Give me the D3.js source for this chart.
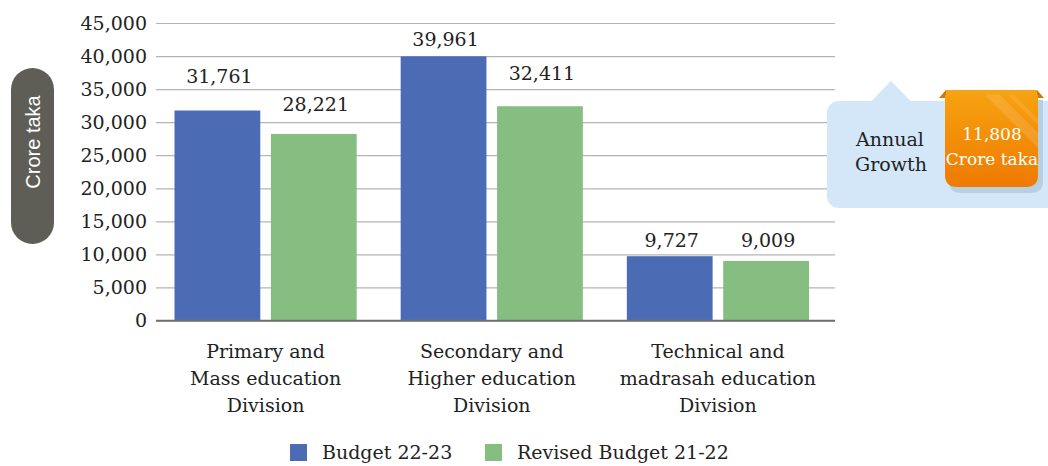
<!DOCTYPE html>
<html>
<head>
<meta charset="utf-8">
<script src="https://cdn.jsdelivr.net/npm/d3@7"></script>
<style>
  html, body { margin: 0; padding: 0; background: #fff; }
  svg { display: block; }
  text { font-family: "DejaVu Serif", serif; }
  text.pill { font-family: "Liberation Sans", Arial, sans-serif; }
</style>
</head>
<body>
<div id="chart"></div>
<script>
// chart data
const categories = [
  ['Primary and', 'Mass education', 'Division'],
  ['Secondary and', 'Higher education', 'Division'],
  ['Technical and', 'madrasah education', 'Division'],
];
const seriesNames = ['Budget 22-23', 'Revised Budget 21-22'];
const budget2223 = [31761, 39961, 9727];
const revised2122 = [28221, 32411, 9009];
const yTicks = [0, 5000, 10000, 15000, 20000, 25000, 30000, 35000, 40000, 45000];
const growthValue = 11808;

// value labels are nudged clear of the gridlines, like the original
const labelLift = [[28, 23], [10, 26], [9.5, 14]];

const colors = ['#4b6cb5', '#86bd81'];
const width = 1048, height = 466;

const svg = d3.select('#chart').append('svg')
  .attr('width', width)
  .attr('height', height);

const x0 = d3.scaleBand()
  .domain(d3.range(categories.length))
  .range([152.5, 831])
  .paddingInner(0)
  .paddingOuter(0);

const x1 = d3.scaleBand()
  .domain(d3.range(seriesNames.length))
  .range([22, x0.bandwidth() - 22])
  .paddingInner(0.11);

const y = d3.scaleLinear()
  .domain([0, 45000])
  .range([320.5, 23]);

const fmt = d3.format(',');

// gridlines + tick labels
const yAxis = d3.axisLeft(y)
  .tickValues(yTicks)
  .tickFormat(fmt)
  .tickSize(-(835 - 156))
  .tickPadding(9);

const gy = svg.append('g')
  .attr('transform', 'translate(156,0)')
  .call(yAxis);
gy.select('.domain').remove();
gy.selectAll('.tick line')
  .attr('stroke', d => d === 0 ? '#6f6f6f' : '#b4b4b4')
  .attr('stroke-width', d => d === 0 ? 1.5 : 1.2);
gy.selectAll('.tick text')
  .attr('font-family', '"DejaVu Serif", serif')
  .attr('font-size', 19)
  .attr('fill', '#222');

// bars
const rows = budget2223.map((v, i) => [v, revised2122[i]]);

const groups = svg.append('g')
  .selectAll('g')
  .data(rows)
  .join('g')
  .attr('transform', (d, i) => `translate(${x0(i)},0)`);

groups.selectAll('rect')
  .data(d => d)
  .join('rect')
  .attr('x', (d, j) => x1(j))
  .attr('y', d => y(d))
  .attr('width', x1.bandwidth())
  .attr('height', d => y(0) - y(d))
  .attr('fill', (d, j) => colors[j]);

// redraw baseline on top of bars
svg.append('line')
  .attr('x1', 156).attr('x2', 835)
  .attr('y1', y(0)).attr('y2', y(0))
  .attr('stroke', '#6f6f6f')
  .attr('stroke-width', 1.5);

groups.each(function(d, i) {
  d3.select(this).selectAll('text.val')
    .data(d)
    .join('text')
    .attr('class', 'val')
    .attr('x', (v, j) => x1(j) + x1.bandwidth() / 2 + 2)
    .attr('y', (v, j) => y(v) - labelLift[i][j])
    .attr('text-anchor', 'middle')
    .attr('font-size', 19)
    .attr('fill', '#222')
    .text(v => fmt(v));
});

// category labels
const cat = svg.append('g')
  .selectAll('text')
  .data(categories)
  .join('text')
  .attr('text-anchor', 'middle')
  .attr('font-size', 19)
  .attr('fill', '#222')
  .attr('transform', (d, i) => `translate(${x0(i) + x0.bandwidth() / 2},358)`);
cat.selectAll('tspan')
  .data(d => d)
  .join('tspan')
  .attr('x', 0)
  .attr('y', (d, k) => k * 27)
  .text(d => d);

// y axis label pill
svg.append('rect')
  .attr('x', 11).attr('y', 68)
  .attr('width', 43).attr('height', 176)
  .attr('rx', 21.5)
  .attr('fill', '#5e5e57');
svg.append('text')
  .attr('class', 'pill')
  .attr('transform', 'translate(40,142) rotate(-90)')
  .attr('text-anchor', 'middle')
  .attr('font-size', 20)
  .attr('fill', '#fff')
  .text('Crore taka');

// legend
const legend = svg.append('g')
  .selectAll('g')
  .data(seriesNames)
  .join('g')
  .attr('transform', (d, i) => `translate(${[290, 485][i]},444)`);
legend.append('rect')
  .attr('width', 17).attr('height', 17)
  .attr('fill', (d, i) => colors[i]);
legend.append('text')
  .attr('x', 32).attr('y', 15)
  .attr('font-size', 19)
  .attr('fill', '#222')
  .text(d => d);

// annual growth callout
const defs = svg.append('defs');
const grad = defs.append('linearGradient')
  .attr('id', 'orangeGrad')
  .attr('x1', 0).attr('y1', 0).attr('x2', 0).attr('y2', 1);
grad.append('stop').attr('offset', '0%').attr('stop-color', '#f6a10f');
grad.append('stop').attr('offset', '100%').attr('stop-color', '#ee7a02');
const ribbonPath = 'M945,95 H1038 V175 Q1038,187 1026,187 H957 Q945,187 945,175 Z';
defs.append('clipPath').attr('id', 'ribbonClip')
  .append('path')
  .attr('d', ribbonPath);

const callout = svg.append('g');
callout.append('rect')
  .attr('x', 827).attr('y', 101)
  .attr('width', 240).attr('height', 107)
  .attr('rx', 12)
  .attr('fill', '#d3e7f8');
callout.append('path')
  .attr('d', 'M871,101.5 L891,81 L911,101.5 Z')
  .attr('fill', '#d3e7f8');
callout.append('text')
  .attr('x', 890).attr('y', 146)
  .attr('text-anchor', 'middle')
  .attr('font-size', 19)
  .attr('fill', '#222')
  .text('Annual');
callout.append('text')
  .attr('x', 891).attr('y', 171)
  .attr('text-anchor', 'middle')
  .attr('font-size', 19)
  .attr('fill', '#222')
  .text('Growth');

// ribbon shadow, folded tabs, body
callout.append('path')
  .attr('d', 'M949,100 H1043 V181 Q1043,193 1031,193 H961 Q949,193 949,181 Z')
  .attr('fill', '#b7cfe3');
callout.append('path')
  .attr('d', 'M939,98 L946,90 L946,98 Z M1037,90 L1044,98 L1037,98 Z')
  .attr('fill', '#d0770a');
callout.append('path')
  .attr('d', 'M946,90 H1037 V96 H946 Z')
  .attr('fill', '#f5a416');
callout.append('path')
  .attr('d', ribbonPath)
  .attr('fill', 'url(#orangeGrad)');
const stripes = callout.append('g').attr('clip-path', 'url(#ribbonClip)');
stripes.append('path')
  .attr('d', 'M985,95 L1000,95 L1038,133 L1038,148 Z')
  .attr('fill', '#fff').attr('opacity', 0.12);
stripes.append('path')
  .attr('d', 'M1008,95 L1014,95 L1038,119 L1038,125 Z')
  .attr('fill', '#fff').attr('opacity', 0.1);

callout.append('text')
  .attr('x', 992).attr('y', 140)
  .attr('text-anchor', 'middle')
  .attr('font-size', 17)
  .attr('fill', '#fff')
  .text(fmt(growthValue));
callout.append('text')
  .attr('x', 992).attr('y', 165)
  .attr('text-anchor', 'middle')
  .attr('font-size', 17)
  .attr('fill', '#fff')
  .text('Crore taka');
</script>
</body>
</html>
